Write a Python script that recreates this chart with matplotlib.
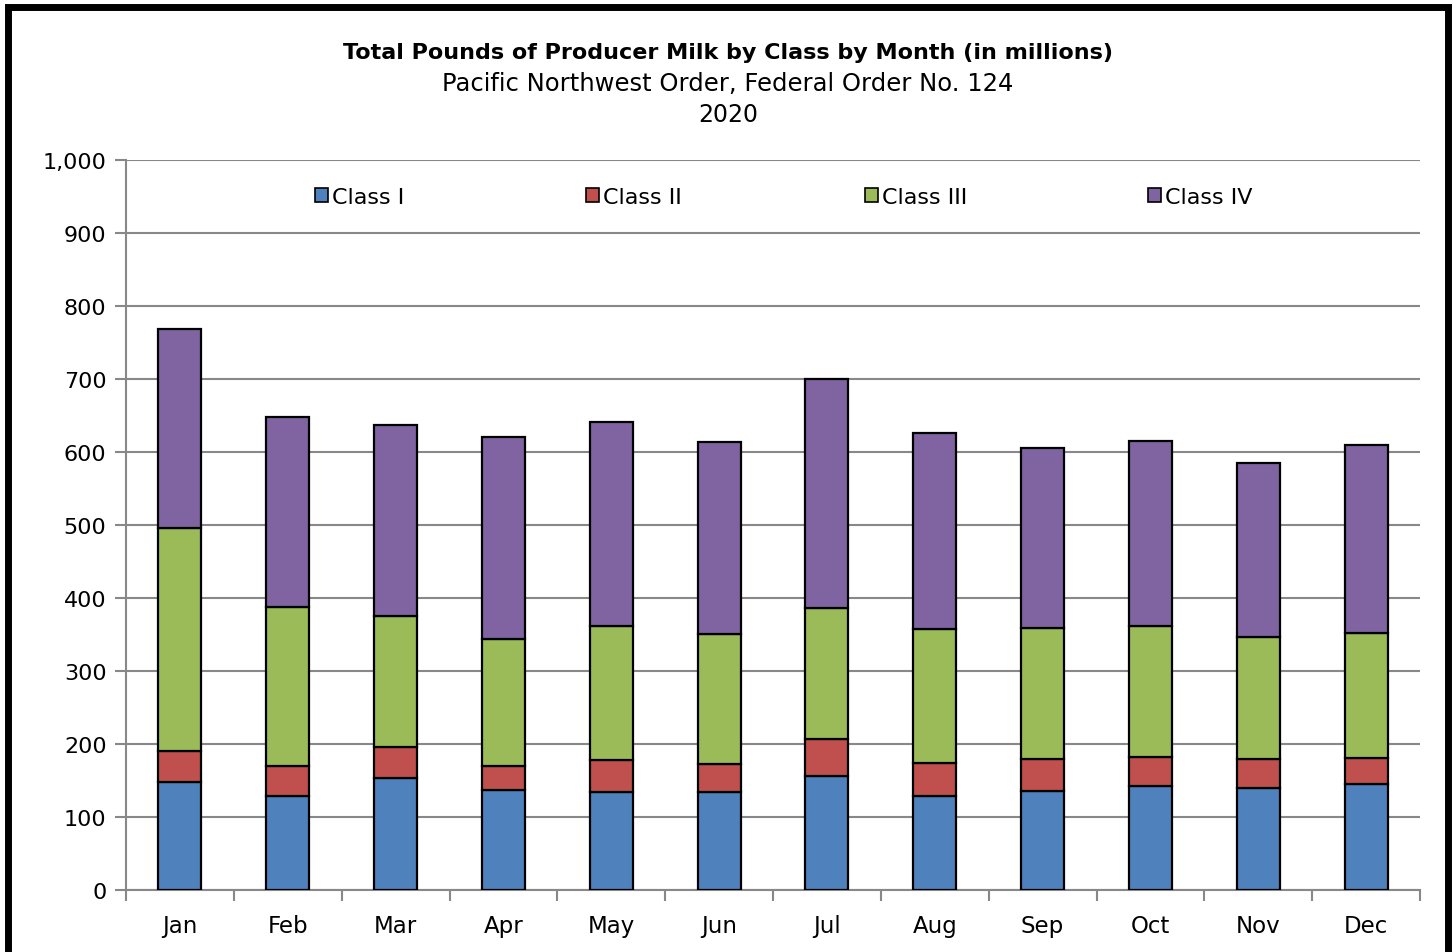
import matplotlib
matplotlib.use("Agg")
import matplotlib.pyplot as plt
import matplotlib.patches as mpatches
import numpy as np

months = ["Jan", "Feb", "Mar", "Apr", "May", "Jun", "Jul", "Aug", "Sep", "Oct", "Nov", "Dec"]
class_1 = [148, 129, 153, 137, 134, 134, 156, 129, 136, 142, 140, 145]
class_2 = [42, 41, 43, 33, 44, 39, 51, 45, 43, 40, 39, 36]
class_3 = [306, 218, 179, 174, 184, 178, 179, 184, 180, 180, 168, 171]
class_4 = [272, 260, 262, 277, 279, 263, 314, 268, 246, 253, 238, 258]
series_names = ["Class I", "Class II", "Class III", "Class IV"]
colors = ["#4F81BD", "#C0504D", "#9BBB59", "#8064A2"]
yticks = [0, 100, 200, 300, 400, 500, 600, 700, 800, 900, 1000]

plt.rcParams['font.family'] = ['DejaVu Sans']

fig = plt.figure(figsize=(14.56, 9.53), dpi=100)
ax = fig.add_axes([126/1456, 1-891/953, (1420-126)/1456, (891-161)/953])

x = np.arange(len(months))
series = [class_1, class_2, class_3, class_4]
bottom = np.zeros(len(months))
handles = []
for vals, name, col in zip(series, series_names, colors):
    b = ax.bar(x, vals, width=0.40, bottom=bottom, color=col, edgecolor="black",
               linewidth=1.6, label=name, zorder=3)
    handles.append(b)
    bottom += np.array(vals)

ax.set_xlim(-0.5, len(months) - 0.5)
ax.set_ylim(0, 1000)
ax.set_yticks(yticks)
ax.set_yticklabels([f"{v:,}" for v in yticks], fontsize=16)
ax.set_xticks(x)
ax.set_xticklabels(months, fontsize=16.5)
ax.set_xticks(np.arange(-0.5, len(months), 1), minor=True)
ax.tick_params(axis='x', which='major', length=0, pad=17)
ax.tick_params(axis='x', which='minor', length=8, color="#888888", width=1.5)
ax.tick_params(axis='y', length=8, color="#888888", width=1.5, pad=6)
ax.yaxis.grid(True, color="#888888", linewidth=1.5, zorder=0)
ax.set_axisbelow(True)
for s in ["top", "right"]:
    ax.spines[s].set_visible(False)
for s in ["left", "bottom"]:
    ax.spines[s].set_color("#888888")
    ax.spines[s].set_linewidth(1.5)

# Titles
fig.text(728/1456, 1-53/953, "Total Pounds of Producer Milk by Class by Month (in millions)",
         ha="center", va="center", fontsize=16, fontweight="bold")
fig.text(728/1456, 1-84/953, "Pacific Northwest Order, Federal Order No. 124",
         ha="center", va="center", fontsize=17.5)
fig.text(728/1456, 1-115/953, "2020", ha="center", va="center", fontsize=17)

# Legend entries placed individually
leg_x = [315, 586, 865, 1148]
for i, (h, name) in enumerate(zip(handles, series_names)):
    patch = mpatches.Patch(facecolor=colors[i], edgecolor="black", linewidth=1.2)
    lg = fig.legend([patch], [name], loc="center left",
                    bbox_to_anchor=(leg_x[i]/1456, 1-198/953), frameon=False,
                    fontsize=16, handlelength=0.6, handleheight=0.6, handletextpad=0.15,
                    borderpad=0, borderaxespad=0)

# Outer border
border = mpatches.Rectangle((8/1456, -0.05), (1448-8)/1456, 1-8/953 + 0.05,
                            transform=fig.transFigure, fill=False, edgecolor="black",
                            linewidth=5, zorder=10)
fig.patches.append(border)

fig.savefig("out.png", dpi=100)
